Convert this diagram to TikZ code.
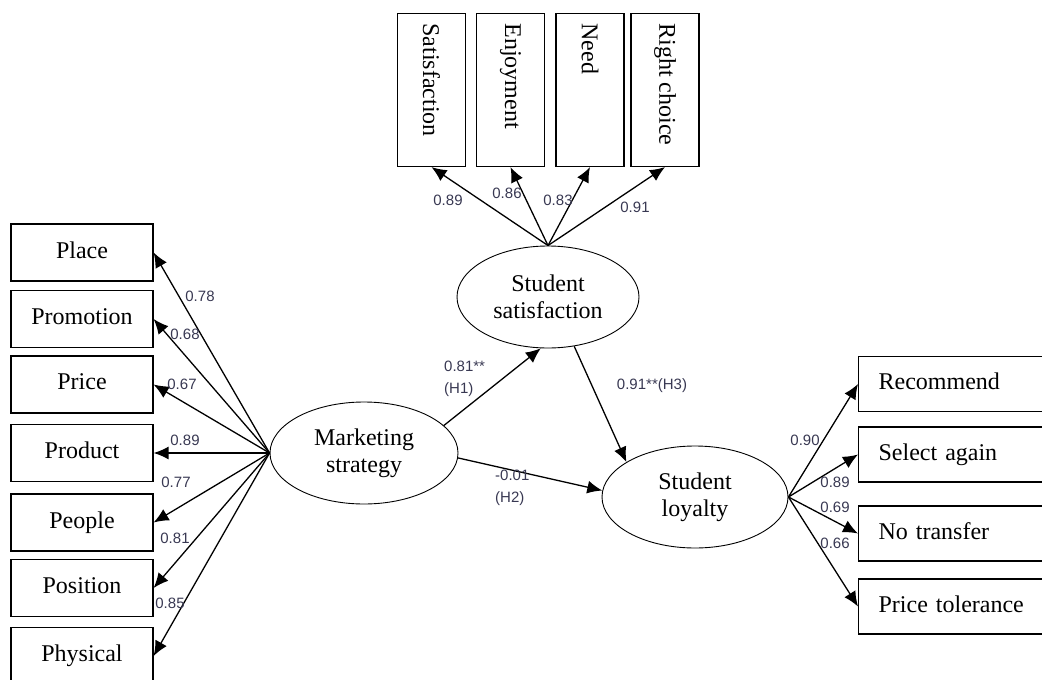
\documentclass[tikz,border=0pt]{standalone}
\usepackage{fontspec}
\setmainfont{Liberation Serif}
\newfontfamily\coeffont{Liberation Sans}
\usetikzlibrary{shapes,arrows.meta}
\definecolor{coefcol}{rgb}{0.22,0.22,0.32}

\begin{document}
\begin{tikzpicture}[x=1pt,y=-1pt,
	box/.style={rectangle,draw,line width=1.2pt,minimum width=142pt,minimum height=57pt,inner sep=0pt,font=\fontsize{24}{27}\selectfont},
	topbox/.style={rectangle,draw,line width=1.2pt,minimum width=68pt,minimum height=153pt,inner sep=0pt,font=\fontsize{24}{27}\selectfont},
	rbox/.style={rectangle,draw,line width=1.2pt,anchor=west,minimum height=55pt,text width=170pt,inner xsep=20pt,align=left,font=\fontsize{24}{27}\selectfont},
	latent/.style={ellipse,draw,line width=0.9pt,minimum width=%
		#1,minimum height=102pt,inner sep=0pt,align=center,font=\fontsize{24}{27}\selectfont},
	arr/.style={-{Latex[length=15pt,width=13pt]},line width=1.3pt},
	coef/.style={font=\coeffont\fontsize{15}{22}\selectfont,text=coefcol,inner sep=1pt}]
\useasboundingbox (0,0) rectangle (1042,680);
\clip (0,0) rectangle (1042,680);

% latent variables
\node [latent=188pt] (ms) at (364,453) {Marketing\\strategy};
\node [latent=182pt] (ss) at (548,297) {Student\\satisfaction};
\node [latent=186pt] (sl) at (695,497) {Student\\loyalty};

% marketing strategy indicators
\foreach \n/\t/\y in {place/Place/252.5,promo/Promotion/319,price/Price/384.5,product/Product/453,
	people/People/522.5,position/Position/588,physical/Physical/656}
	\node [box] (\n) at (82,\y) {\raisebox{5pt}{\t}};
\foreach \n/\v/\lx/\ly in {place/0.78/200/296,promo/0.68/185/334,price/0.67/182/384,product/0.89/185/440,
	people/0.77/176/482,position/0.81/175/538,physical/0.85/170/603}
{
	\draw [arr] (ms.west) -- (\n.east);
	\node [coef] (c-\n) at (\lx,\ly) {\v};
}

% student satisfaction indicators
\foreach \n/\t/\x in {satis/Satisfaction/431.5,enjoy/Enjoyment/510.5,need/Need/590,right/Right choice/665}
	\node [topbox] (\n) at (\x,90) {\rotatebox{-90}{\makebox[133pt][l]{\t}}};
\foreach \n/\v/\lx/\ly in {satis/0.89/448/200,enjoy/0.86/507/193,need/0.83/558/200,right/0.91/635/207}
{
	\draw [arr] (ss.north) -- (\n.south);
	\node [coef] (c-\n) at (\lx,\ly) {\v};
}

% student loyalty indicators
\foreach \n/\t/\y in {recom/Recommend/384,again/Select again/454.5,notrans/No transfer/533.5,toler/Price tolerance/606.5}
	\node [rbox] (\n) at (858,\y) {\raisebox{5pt}{\t}};
\foreach \n/\v/\lx/\ly in {recom/0.90/805/440,again/0.89/835/482,notrans/0.69/835/507,toler/0.66/835/543}
{
	\draw [arr] (sl.east) -- (\n.west);
	\node [coef] (c-\n) at (\lx,\ly) {\v};
}

% structural paths
\draw [arr] (ms.19) -- (ss.262);
\draw [arr] (ms.357) -- (sl.176);
\draw [arr] (ss.298) -- (sl.153);
\node [coef,anchor=west,align=left] (h1) at (443,379) {0.81**\\(H1)};
\node [coef,anchor=west,align=left] (h2) at (494,488) {-0.01\\(H2)};
\node [coef] (h3) at (652,386) {0.91**(H3)};
\end{tikzpicture}
\end{document}
